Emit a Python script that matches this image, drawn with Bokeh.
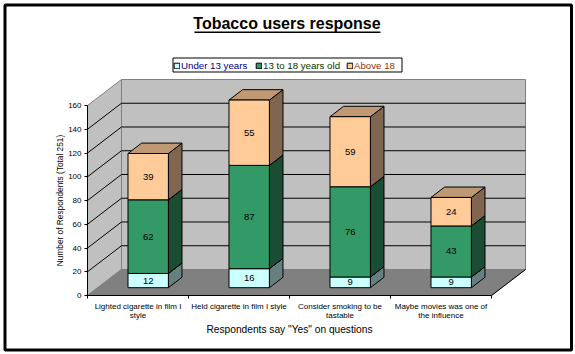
from bokeh.plotting import figure
from bokeh.models import (Range1d, FixedTicker, LinearAxis, BoxAnnotation, Legend, LegendItem, Label)
from bokeh.core.properties import value
from bokeh.embed import file_html
from bokeh.resources import INLINE

title = "Tobacco users response"
categories = ["Lighted cigarette in film I\nstyle", "Held cigarette in film I style",
              "Consider smoking to be\ntastable", "Maybe movies was one of\nthe influence"]
series_names = ["Under 13 years", "13 to 18 years old", "Above 18"]
under_13 = [12, 16, 9, 9]
age_13_18 = [62, 87, 76, 43]
above_18 = [39, 55, 59, 24]
y_ticks = [0, 20, 40, 60, 80, 100, 120, 140, 160]

front_colors = ["#CCFFFF", "#339966", "#FFCC99"]
side_colors = ["#668080", "#1A4D33", "#806650"]
top_colors = ["#99BFBF", "#267350", "#BF9973"]
legend_text_colors = ["#000080", "#003300", "#993300"]

FONT = "Liberation Sans"
DX, DY = 0.3366, 21.9      # offset of the back wall from the front plane, data units
Y_MAX = 160
BAR_W = 0.4
D0, D1 = 0.3, 0.7
PX_X, PX_Y = 101.0, 1.1875  # pixels per data unit
ORIGIN_X, ORIGIN_Y = 87, 295

W, H = 575, 354
p = figure(width=W, height=H, output_backend="svg", toolbar_location=None,
           x_range=Range1d(-ORIGIN_X / PX_X, (W - ORIGIN_X) / PX_X),
           y_range=Range1d(-(H - ORIGIN_Y) / PX_Y, ORIGIN_Y / PX_Y),
           min_border=0, x_axis_type=None, y_axis_type=None,
           background_fill_color="white", border_fill_color="white", outline_line_color=None)
p.grid.visible = False

# walls and floor
p.patch([DX, 4 + DX, 4 + DX, DX], [DY, DY, Y_MAX + DY, Y_MAX + DY], fill_color="#C0C0C0",
        line_color="#808080", line_width=1)
p.patch([0, DX, DX, 0], [0, DY, Y_MAX + DY, Y_MAX], fill_color="#C0C0C0", line_color="#808080", line_width=1)
p.patch([0, 4, 4 + DX, DX], [0, 0, DY, DY], fill_color="#808080", line_color="#808080", line_width=1)
p.line([4, 4 + DX], [0, DY], line_color="black", line_width=1)

# grid lines
for t in y_ticks[1:-1]:
    p.line([0, DX, 4 + DX], [t, t + DY, t + DY], line_color="black", line_width=1)

# stacked 3D bars
series = [under_13, age_13_18, above_18]
front_renderers = []
for s in range(3):
    xs_f, ys_f, xs_s, ys_s, xs_t, ys_t = [], [], [], [], [], []
    lx, ly, lt = [], [], []
    for c in range(4):
        base = sum(series[k][c] for k in range(s))
        high = base + series[s][c]
        x0 = c + 0.5 - BAR_W / 2 + D0 * DX
        x1 = x0 + BAR_W
        y0, y1 = base + D0 * DY, high + D0 * DY
        ddx, ddy = (D1 - D0) * DX, (D1 - D0) * DY
        xs_f.append([x0, x1, x1, x0]); ys_f.append([y0, y0, y1, y1])
        xs_s.append([x1, x1 + ddx, x1 + ddx, x1]); ys_s.append([y0, y0 + ddy, y1 + ddy, y1])
        xs_t.append([x0, x1, x1 + ddx, x0 + ddx]); ys_t.append([y1, y1, y1 + ddy, y1 + ddy])
        lx.append((x0 + x1) / 2); ly.append((y0 + y1) / 2); lt.append(str(series[s][c]))
    p.patches(xs_s, ys_s, fill_color=side_colors[s], line_color="black", line_width=1)
    p.patches(xs_t, ys_t, fill_color=top_colors[s], line_color="black", line_width=1)
    r = p.patches(xs_f, ys_f, fill_color=front_colors[s], line_color="black", line_width=1)
    front_renderers.append(r)
    p.text(lx, ly, text=lt, text_align="center", text_baseline="middle", text_color="black",
           text_font=value(FONT), text_font_size="9.5px")

# axes, fixed inside the frame that fills the canvas
ya = LinearAxis(ticker=FixedTicker(ticks=y_ticks), bounds=(0, Y_MAX), fixed_location=0,
                axis_label="Number of Respondents (Total 251)")
ya.major_tick_in = 0; ya.major_tick_out = 3; ya.minor_tick_line_color = None
ya.major_label_text_font = FONT; ya.major_label_text_font_size = "8px"; ya.major_label_text_color = "black"
ya.axis_label_text_font = FONT; ya.axis_label_text_font_size = "8.3px"; ya.axis_label_text_font_style = "normal"
ya.axis_label_text_color = "black"
ya.axis_label_standoff = 0; ya.major_label_standoff = 3
p.add_layout(ya, "left")

xa = LinearAxis(ticker=FixedTicker(ticks=[c + 0.5 for c in range(4)], minor_ticks=list(range(5))),
                bounds=(0, 4), fixed_location=0, axis_label='Respondents say "Yes" on questions')
xa.major_label_overrides = {c + 0.5: categories[c] for c in range(4)}
xa.major_tick_line_color = None; xa.major_tick_in = 0; xa.major_tick_out = 0
xa.minor_tick_in = 0; xa.minor_tick_out = 3
xa.major_label_text_font = FONT; xa.major_label_text_font_size = "8px"; xa.major_label_text_color = "black"
xa.major_label_text_line_height = 1.0
xa.major_label_standoff = 3
xa.axis_label_text_font = FONT; xa.axis_label_text_font_size = "10.2px"; xa.axis_label_text_font_style = "normal"
xa.axis_label_text_color = "black"
xa.axis_label_standoff = 1
p.add_layout(xa, "below")

# title with underline
p.add_layout(Label(x=286.5, y=23, x_units="canvas", y_units="canvas", text=title, text_align="center",
                   text_baseline="middle", text_font=FONT, text_font_size="16px", text_font_style="bold",
                   text_color="black"))
p.add_layout(BoxAnnotation(left=194, right=380, top=31, bottom=32.5, left_units="canvas", right_units="canvas",
                           top_units="canvas", bottom_units="canvas", fill_color="black", fill_alpha=1,
                           line_color=None))

# legend frame and outer frame
p.add_layout(BoxAnnotation(left=172.5, right=401.5, top=57.5, bottom=71.5, left_units="canvas", right_units="canvas",
                           top_units="canvas", bottom_units="canvas", fill_color="white", fill_alpha=1,
                           line_color="black", line_alpha=1, line_width=1))
p.add_layout(BoxAnnotation(left=4.5, right=571, top=4.5, bottom=349.5, left_units="canvas", right_units="canvas",
                           top_units="canvas", bottom_units="canvas", fill_alpha=0,
                           line_color="black", line_alpha=1, line_width=3))

# one legend per entry, since each has its own text colour
legend_x = [173, 255, 346]
for i in range(3):
    lg = Legend(items=[LegendItem(label=series_names[i], renderers=[front_renderers[i]])],
                location=(legend_x[i], H - 71), border_line_color=None, background_fill_alpha=0,
                glyph_width=7, glyph_height=7, label_text_font=FONT, label_text_font_size="9.7px",
                label_text_color=legend_text_colors[i], label_standoff=1, padding=2, margin=0)
    p.add_layout(lg, "center")

open("out.html", "w").write(file_html(p, INLINE))
